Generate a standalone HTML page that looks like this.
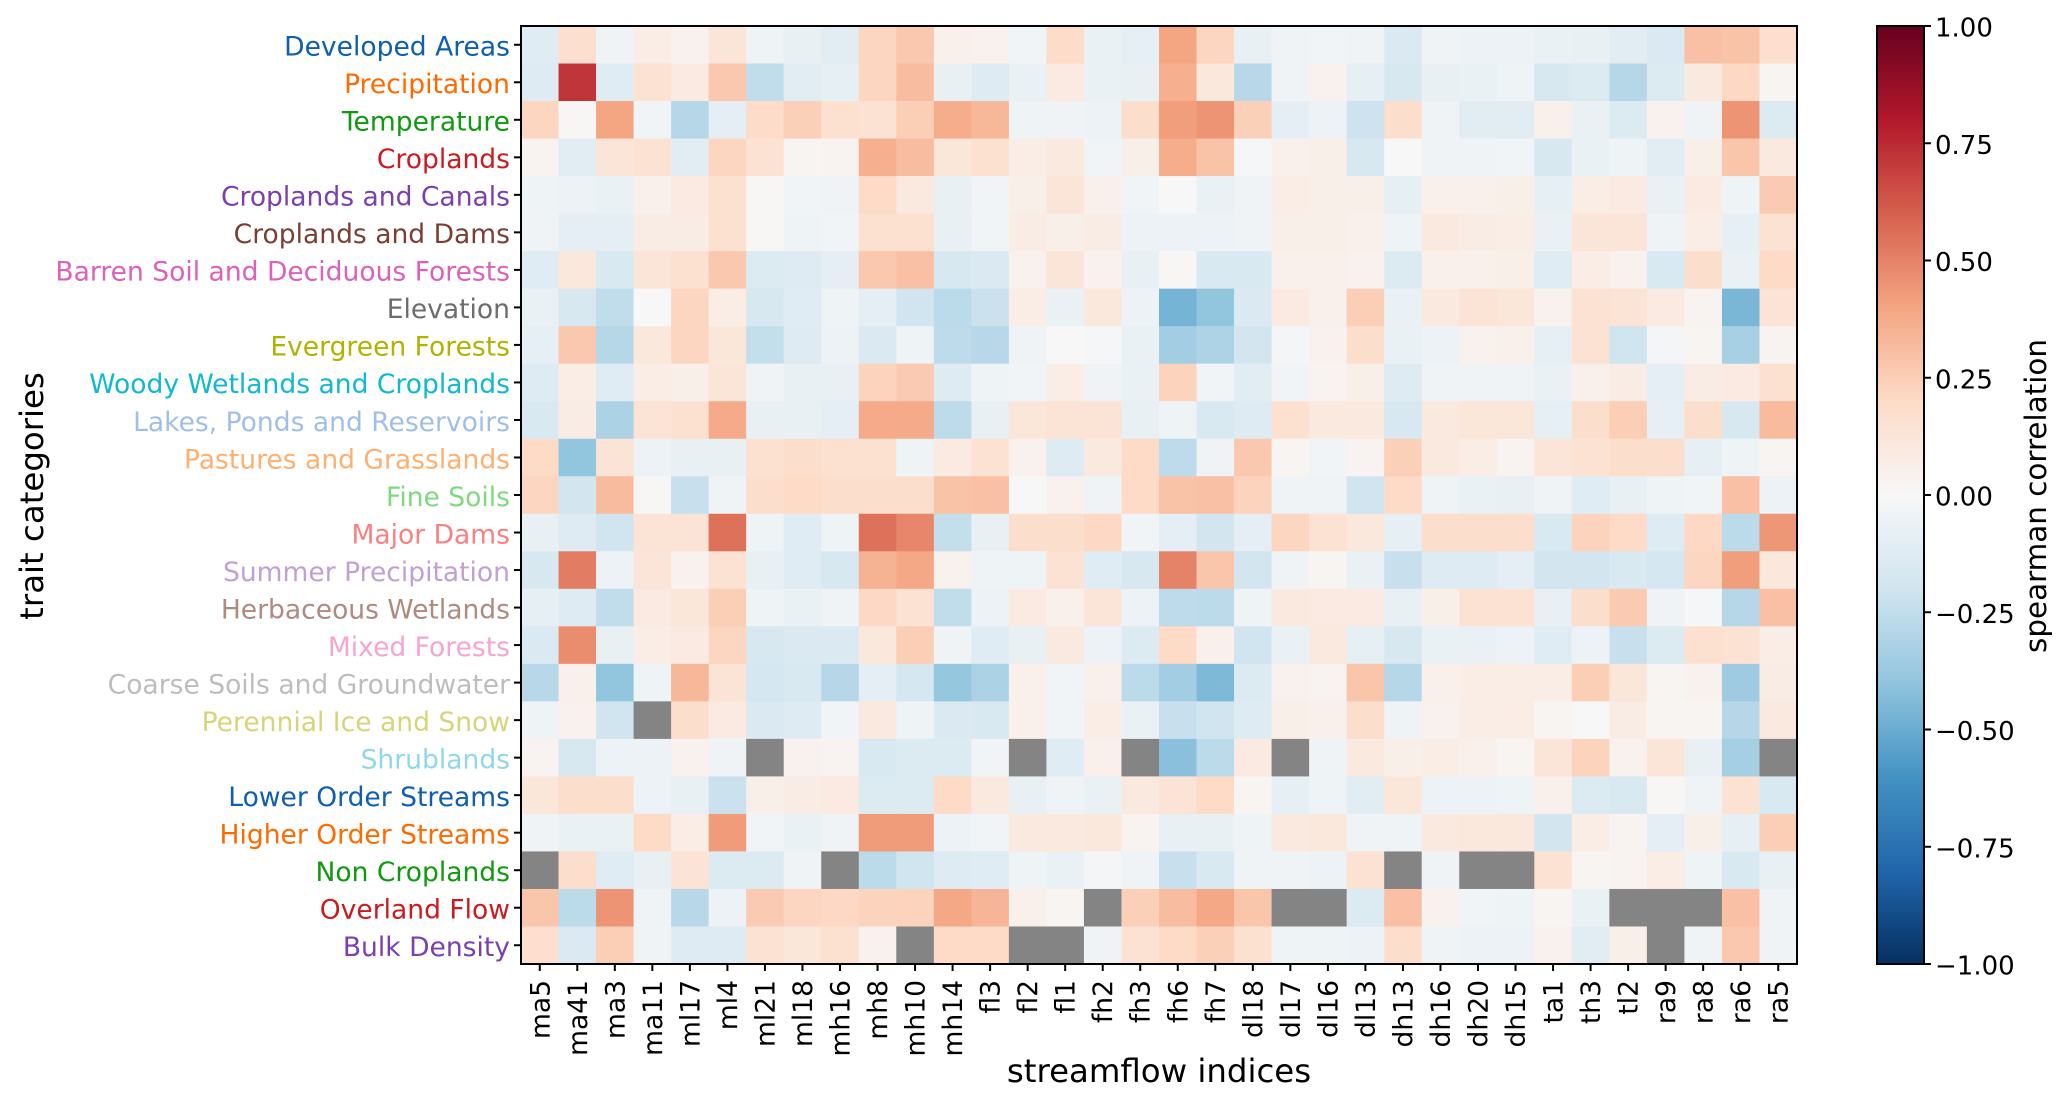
<!DOCTYPE html>
<html lang="en">
<head>
<meta charset="utf-8">
<title>Spearman correlation heatmap</title>
<style>
html,body{margin:0;padding:0;background:#fff;width:2067px;height:1101px;overflow:hidden}
svg{display:block}
text{font-family:"DejaVu Sans","Liberation Sans",sans-serif}
</style>
</head>
<body>
<svg id="chart" xmlns="http://www.w3.org/2000/svg" width="2067" height="1101" viewBox="0 0 2067 1101">
  <rect x="0" y="0" width="2067" height="1101" fill="#fff"/>
  <defs>
    <linearGradient id="cbGrad" x1="0" y1="1" x2="0" y2="0"></linearGradient>
  </defs>
  <g id="cells"></g>
  <rect x="521" y="26" width="1276" height="938" fill="none" stroke="#000" stroke-width="2"/>
  <g id="yticks"></g>
  <g id="xticks"></g>
  <text x="1159" y="1082" font-size="32.4" text-anchor="middle" fill="#000">streamflow indices</text>
  <text transform="translate(43,496) rotate(-90)" font-size="32.4" text-anchor="middle" fill="#000">trait categories</text>
  <rect x="1877" y="26" width="47" height="938" fill="url(#cbGrad)" stroke="#000" stroke-width="2"/>
  <g id="cbticks"></g>
  <text transform="translate(2046,496) rotate(-90)" font-size="29.4" text-anchor="middle" fill="#000">spearman correlation</text>
</svg>
<script>
const streamflowIndices = ["ma5","ma41","ma3","ma11","ml17","ml4","ml21","ml18","mh16","mh8","mh10","mh14","fl3","fl2","fl1","fh2","fh3","fh6","fh7","dl18","dl17","dl16","dl13","dh13","dh16","dh20","dh15","ta1","th3","tl2","ra9","ra8","ra6","ra5"];
const traitCategories = ["Developed Areas","Precipitation","Temperature","Croplands","Croplands and Canals","Croplands and Dams","Barren Soil and Deciduous Forests","Elevation","Evergreen Forests","Woody Wetlands and Croplands","Lakes, Ponds and Reservoirs","Pastures and Grasslands","Fine Soils","Major Dams","Summer Precipitation","Herbaceous Wetlands","Mixed Forests","Coarse Soils and Groundwater","Perennial Ice and Snow","Shrublands","Lower Order Streams","Higher Order Streams","Non Croplands","Overland Flow","Bulk Density"];
const categoryColors = ["#0f5fae","#ff6a00","#0f9a0f","#cc1a1f","#7b40b0","#7a3f32","#dd60bb","#6d6d6d","#b0b300","#10b8d0","#a0bfe8","#ffb070","#7fd97f","#f98080","#c0a0d5","#b08a7f","#f5a5d0","#bdbdbd","#d5d57a","#90d8e8","#0f5fae","#ff6a00","#0f9a0f","#cc1a1f","#7b40b0"];
const colorbarTicks = [1,0.75,0.5,0.25,0,-0.25,-0.5,-0.75,-1];
const n = null;
const correlations = [
[-.12,.17,-.04,.07,.04,.13,-.05,-.08,-.11,.22,.27,.05,.04,-.03,.19,-.07,-.09,.40,.22,-.08,-.04,-.03,-.04,-.15,-.04,-.06,-.06,-.07,-.08,-.11,-.15,.30,.29,.17],
[-.13,.72,-.12,.15,.09,.27,-.25,-.11,-.09,.22,.31,-.08,-.13,-.07,.09,-.07,-.08,.36,.11,-.28,-.04,.04,-.09,-.17,-.08,-.07,-.05,-.17,-.14,-.29,-.14,.10,.21,.02],
[.22,.01,.40,-.03,-.29,-.10,.19,.24,.16,.15,.25,.37,.33,-.05,-.04,-.06,.18,.42,.45,.24,-.10,-.06,-.21,.18,-.04,-.11,-.11,.05,-.07,-.14,.04,-.04,.45,-.14],
[.03,-.11,.13,.15,-.11,.22,.15,.02,.03,.36,.31,.12,.16,.07,.10,-.03,.06,.37,.29,-.01,.05,.06,-.17,0,-.04,-.04,-.03,-.17,-.07,-.05,-.11,.06,.28,.10],
[-.05,-.06,-.07,.05,.09,.16,.01,-.03,-.04,.20,.10,-.08,-.03,.06,.13,.05,-.03,0,-.07,-.04,.07,.06,.06,-.09,.05,.05,.06,-.09,.07,.09,-.07,.09,-.05,.26],
[-.04,-.10,-.10,.08,.08,.16,.01,-.05,-.03,.16,.16,-.08,-.03,.08,.06,.08,-.06,-.06,-.06,-.04,.06,.06,.05,-.05,.10,.08,.07,-.07,.13,.13,-.04,.07,-.09,.15],
[-.12,.11,-.16,.13,.16,.27,-.14,-.13,-.10,.27,.30,-.17,-.15,.04,.13,.04,-.08,.01,-.16,-.16,.05,.05,.04,-.14,.05,.05,.06,-.12,.07,.04,-.16,.18,-.07,.20],
[-.07,-.17,-.25,0,.22,.07,-.17,-.12,-.05,-.10,-.20,-.27,-.22,.07,-.07,.11,-.06,-.47,-.40,-.15,.09,.05,.25,-.07,.10,.14,.12,.04,.15,.14,.09,.03,-.46,.14],
[-.09,.27,-.29,.11,.22,.12,-.24,-.13,-.06,-.15,-.05,-.26,-.28,-.04,0,-.01,-.07,-.35,-.31,-.19,-.02,.04,.18,-.07,-.06,.04,.05,-.09,.15,-.20,-.02,.02,-.33,.03],
[-.13,.07,-.12,.07,.06,.13,-.04,-.08,-.08,.23,.26,-.13,-.05,-.03,.07,-.04,-.07,.23,-.03,-.11,-.03,.03,.06,-.13,-.04,-.04,-.04,-.07,.05,.08,-.10,.08,.09,.16],
[-.16,.08,-.32,.14,.16,.38,-.08,-.08,-.10,.38,.38,-.26,-.08,.12,.14,.14,-.08,-.05,-.16,-.13,.16,.10,.10,-.17,.10,.12,.12,-.09,.18,.25,-.09,.18,-.17,.32],
[.20,-.40,.14,-.06,-.08,-.08,.16,.18,.16,.16,-.05,.09,.15,.04,-.13,.10,.20,-.26,-.04,.27,.02,-.03,.03,.24,.10,.07,.03,.13,.15,.18,.18,-.09,-.05,.02],
[.22,-.19,.32,.01,-.23,-.04,.18,.20,.18,.18,.18,.29,.30,0,.04,-.04,.20,.29,.30,.23,-.04,-.04,-.20,.20,-.04,-.07,-.08,-.04,-.12,-.08,-.05,-.03,.30,-.06],
[-.08,-.13,-.20,.14,.14,.55,-.05,-.12,-.05,.55,.49,-.24,-.08,.18,.18,.21,-.03,-.10,-.19,-.10,.22,.15,.11,-.09,.18,.18,.18,-.16,.23,.20,-.13,.21,-.27,.44],
[-.17,.52,-.06,.13,.04,.15,-.08,-.12,-.17,.35,.39,.04,-.05,-.05,.15,-.12,-.17,.50,.28,-.19,-.04,.02,-.07,-.23,-.13,-.13,-.10,-.19,-.19,-.16,-.18,.22,.42,.11],
[-.09,-.13,-.25,.09,.12,.25,-.05,-.07,-.04,.21,.15,-.25,-.06,.09,.05,.13,-.06,-.26,-.27,-.05,.10,.09,.09,-.08,.06,.15,.15,-.08,.18,.26,-.04,-.01,-.29,.30],
[-.15,.47,-.08,.07,.09,.22,-.17,-.15,-.15,.11,.25,-.04,-.12,-.08,.10,-.06,-.14,.20,.05,-.20,-.07,.10,-.09,-.17,-.07,-.07,-.06,-.12,-.06,-.23,-.14,.16,.15,.07],
[-.28,.05,-.40,-.05,.33,.14,-.18,-.16,-.29,-.10,-.18,-.39,-.32,.05,-.03,.05,-.27,-.35,-.45,-.14,.04,.03,.28,-.29,.05,.07,.07,.07,.25,.12,.02,.04,-.36,.08],
[-.05,.04,-.20,n,.18,.09,-.15,-.13,-.03,.10,-.05,-.15,-.16,.05,-.03,.07,-.07,-.23,-.20,-.13,.06,.05,.18,-.05,.04,.07,.07,.02,0,.08,.02,.02,-.29,.10],
[.03,-.17,-.06,-.06,.04,-.04,n,.04,.03,-.16,-.14,-.14,-.03,n,-.12,.05,n,-.42,-.27,.09,n,-.04,.10,.06,.07,.05,.02,.13,.23,.04,.13,-.08,-.34,n],
[.12,.18,.18,-.06,-.08,-.22,.06,.08,.09,-.14,-.14,.20,.10,-.08,-.04,-.07,.10,.14,.20,.02,-.09,-.05,-.11,.12,-.06,-.06,-.05,.05,-.14,-.16,.01,-.04,.15,-.16],
[-.04,-.07,-.07,.20,.07,.43,-.03,-.07,-.04,.43,.43,-.06,-.03,.10,.10,.11,.03,-.08,-.08,-.05,.10,.11,-.04,-.04,.10,.11,.11,-.19,.07,.03,-.10,.06,-.09,.25],
[n,.18,-.12,-.08,.14,-.14,-.14,-.04,n,-.27,-.20,-.13,-.12,-.05,-.07,-.02,-.04,-.23,-.16,-.04,-.04,-.06,.15,n,-.04,n,n,.15,.02,.03,.07,-.05,-.16,-.08],
[.28,-.27,.45,-.04,-.28,-.06,.26,.22,.21,.23,.23,.39,.34,.05,.02,n,.24,.31,.39,.28,n,n,-.14,.30,.04,-.03,-.05,.02,-.07,n,n,n,.30,-.04],
[.17,-.15,.25,-.04,-.13,-.13,.15,.12,.16,.04,n,.20,.20,n,n,-.04,.15,.20,.24,.16,-.05,-.05,-.06,.18,-.04,-.06,-.06,.04,-.11,.06,n,-.04,.27,-.04]
];
const NS = "http://www.w3.org/2000/svg";
const plotLeft = 521, plotTop = 26, plotWidth = 1276, plotHeight = 938;
const cbLeft = 1877, cbRight = 1924;
const rdbuRamp = ["#053061","#2166ac","#4393c3","#92c5de","#d1e5f0","#f7f7f7","#fddbc7","#f4a582","#d6604d","#b2182b","#67001f"];
function xBand(i){return plotLeft + i * plotWidth / streamflowIndices.length;}
function yBand(j){return plotTop + j * plotHeight / traitCategories.length;}
function cbY(v){return plotTop + (1 - v) / 2 * plotHeight;}
function hexRgb(h){return [1,3,5].map(function(k){return parseInt(h.substr(k,2),16);});}
function colorFor(v){
  const t = Math.max(0, Math.min(1, (v + 1) / 2)) * (rdbuRamp.length - 1);
  const a = Math.min(Math.floor(t), rdbuRamp.length - 2);
  const f = t - a;
  const c0 = hexRgb(rdbuRamp[a]), c1 = hexRgb(rdbuRamp[a + 1]);
  return "rgb(" + c0.map(function(c, k){return Math.round(c + (c1[k] - c) * f);}).join(",") + ")";
}
function mk(tag, attrs, parent, txt){
  const el = document.createElementNS(NS, tag);
  for (const k in attrs) el.setAttribute(k, attrs[k]);
  if (txt !== undefined) el.textContent = txt;
  parent.appendChild(el);
  return el;
}
const cellsG = document.getElementById("cells");
correlations.forEach(function(row, j){
  row.forEach(function(v, i){
    const x0 = xBand(i), x1 = xBand(i + 1), y0 = yBand(j), y1 = yBand(j + 1);
    const el = mk("rect", {x:x0, y:y0, width:x1 - x0 + 0.4, height:y1 - y0 + 0.4, fill: v === null ? "#848484" : colorFor(v)}, cellsG);
    
    
  });
});
const yG = document.getElementById("yticks");
traitCategories.forEach(function(name, j){
  const y = yBand(j + 0.5);
  const tick = mk("line", {x1:514, x2:521, y1:y, y2:y, stroke:"#000", "stroke-width":2}, yG);
  
  
  const label = mk("text", {x:510, y:y + 10.8, "font-size":26.55, "text-anchor":"end", fill:categoryColors[j]}, yG, name);
  
  
});
const xG = document.getElementById("xticks");
streamflowIndices.forEach(function(name, i){
  const x = xBand(i + 0.5);
  const tick = mk("line", {x1:x, x2:x, y1:964, y2:971, stroke:"#000", "stroke-width":2}, xG);
  
  
  const label = mk("text", {transform:"translate(" + (x + 9.5) + ",980) rotate(-90)", "font-size":26.55, "text-anchor":"end", fill:"#000"}, xG, name);
  
  
});
const grad = document.getElementById("cbGrad");
rdbuRamp.forEach(function(c, k){
  mk("stop", {offset:k / (rdbuRamp.length - 1), "stop-color":c}, grad);
});
const cbG = document.getElementById("cbticks");
colorbarTicks.forEach(function(v){
  const y = cbY(v);
  const tick = mk("line", {x1:cbRight, x2:cbRight + 7, y1:y, y2:y, stroke:"#000", "stroke-width":2}, cbG);
  
  
  const txt = (v < 0 ? "\u2212" : "") + Math.abs(v).toFixed(2);
  const label = mk("text", {x:cbRight + 11, y:y + 10.5, "font-size":26, fill:"#000"}, cbG, txt);
  
  
});
</script>
</body>
</html>
